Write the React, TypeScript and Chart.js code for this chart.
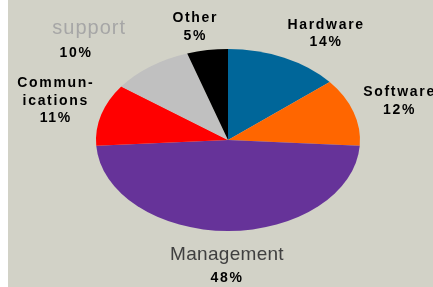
import React, { useEffect, useRef } from "react";
import { Chart, registerables } from "chart.js";

Chart.register(...registerables);

const categories = ["Hardware", "Software", "Management", "Communications", "support", "Other"];
const shares = [14, 12, 48, 11, 10, 5];
const sliceColors = ["#006699", "#ff6600", "#663399", "#ff0000", "#c0c0c0", "#000000"];
const nameLines = [["Hardware"], ["Software"], ["Management"], ["Commun-", "ications"], ["support"], ["Other"]];

const SQUASH = 91 / 132;
const LABEL_RADIUS = 1.39;
const BG = "#d2d2c7";
// label block nudges [dx, dy, percent-line dx]
const NUDGES = [
  [20, 8, 0],
  [-3, 0, 0],
  [-1, 0, 0],
  [4, -4, 0],
  [-31, 3, -13],
  [-4, 12, 0],
];

const boldFont = "bold 14px 'Liberation Sans', Arial, sans-serif";
const mgmtFont = "19px 'Liberation Sans', Arial, sans-serif";
const supportFont = "20px 'Liberation Sans', Arial, sans-serif";

const squashPlugin = {
  id: "squash",
  beforeDatasetsDraw(chart: any) {
    const { ctx, chartArea } = chart;
    const cx = (chartArea.left + chartArea.right) / 2;
    const cy = (chartArea.top + chartArea.bottom) / 2;
    ctx.save();
    ctx.translate(cx, cy);
    ctx.scale(1, SQUASH);
    ctx.translate(-cx, -cy);
  },
  afterDatasetsDraw(chart: any) {
    chart.ctx.restore();
  },
};

const labelPlugin = {
  id: "sliceLabels",
  afterDraw(chart: any) {
    const { ctx } = chart;
    const meta = chart.getDatasetMeta(0);
    meta.data.forEach((arc: any, i: number) => {
      const p = arc.getProps(["x", "y", "startAngle", "endAngle", "outerRadius"], true);
      const mid = (p.startAngle + p.endAngle) / 2;
      const [ndx, ndy, pdx] = NUDGES[i];
      const px = p.x + Math.cos(mid) * p.outerRadius * LABEL_RADIUS + ndx;
      const py = p.y + Math.sin(mid) * p.outerRadius * LABEL_RADIUS * SQUASH + ndy;
      const isMgmt = categories[i] === "Management";
      const isSupport = categories[i] === "support";
      const special = isMgmt || isSupport;
      const lines: { text: string; font: string; color: string; spacing: string; dx: number }[] = [];
      nameLines[i].forEach((t) =>
        lines.push({
          text: t,
          font: isMgmt ? mgmtFont : isSupport ? supportFont : boldFont,
          color: isSupport ? "#a6a6a6" : isMgmt ? "#404040" : "#000000",
          spacing: isSupport ? "1px" : isMgmt ? "0.3px" : "1.7px",
          dx: 0,
        })
      );
      lines.push({ text: shares[i] + "%", font: boldFont, color: "#000000", spacing: "1.7px", dx: pdx });
      const gap = special ? 24 : 17.7;
      const total = (lines.length - 1) * gap;
      ctx.save();
      ctx.textAlign = "center";
      ctx.textBaseline = "middle";
      lines.forEach((ln, j) => {
        ctx.font = ln.font;
        (ctx as any).letterSpacing = ln.spacing;
        ctx.fillStyle = ln.color;
        ctx.fillText(ln.text, px + ln.dx, py - total / 2 + j * gap);
      });
      ctx.restore();
    });
  },
};

export default function App() {
  const ref = useRef<HTMLCanvasElement>(null);
  useEffect(() => {
    if (!ref.current) return;
    const chart = new Chart(ref.current, {
      type: "pie",
      data: {
        labels: categories,
        datasets: [
          {
            data: shares,
            backgroundColor: sliceColors,
            borderWidth: 0,
          },
        ],
      },
      options: {
        responsive: false,
        animation: false,
        layout: { padding: { left: 88, right: 73, top: 8, bottom: 15 } },
        plugins: { legend: { display: false }, tooltip: { enabled: false } },
      },
      plugins: [squashPlugin, labelPlugin],
    });
    return () => chart.destroy();
  }, []);
  return (
    <div style={{ position: "fixed", left: 8, top: 0, width: 425, height: 287, background: BG }}>
      <canvas ref={ref} width={425} height={287} style={{ display: "block" }} />
    </div>
  );
}
